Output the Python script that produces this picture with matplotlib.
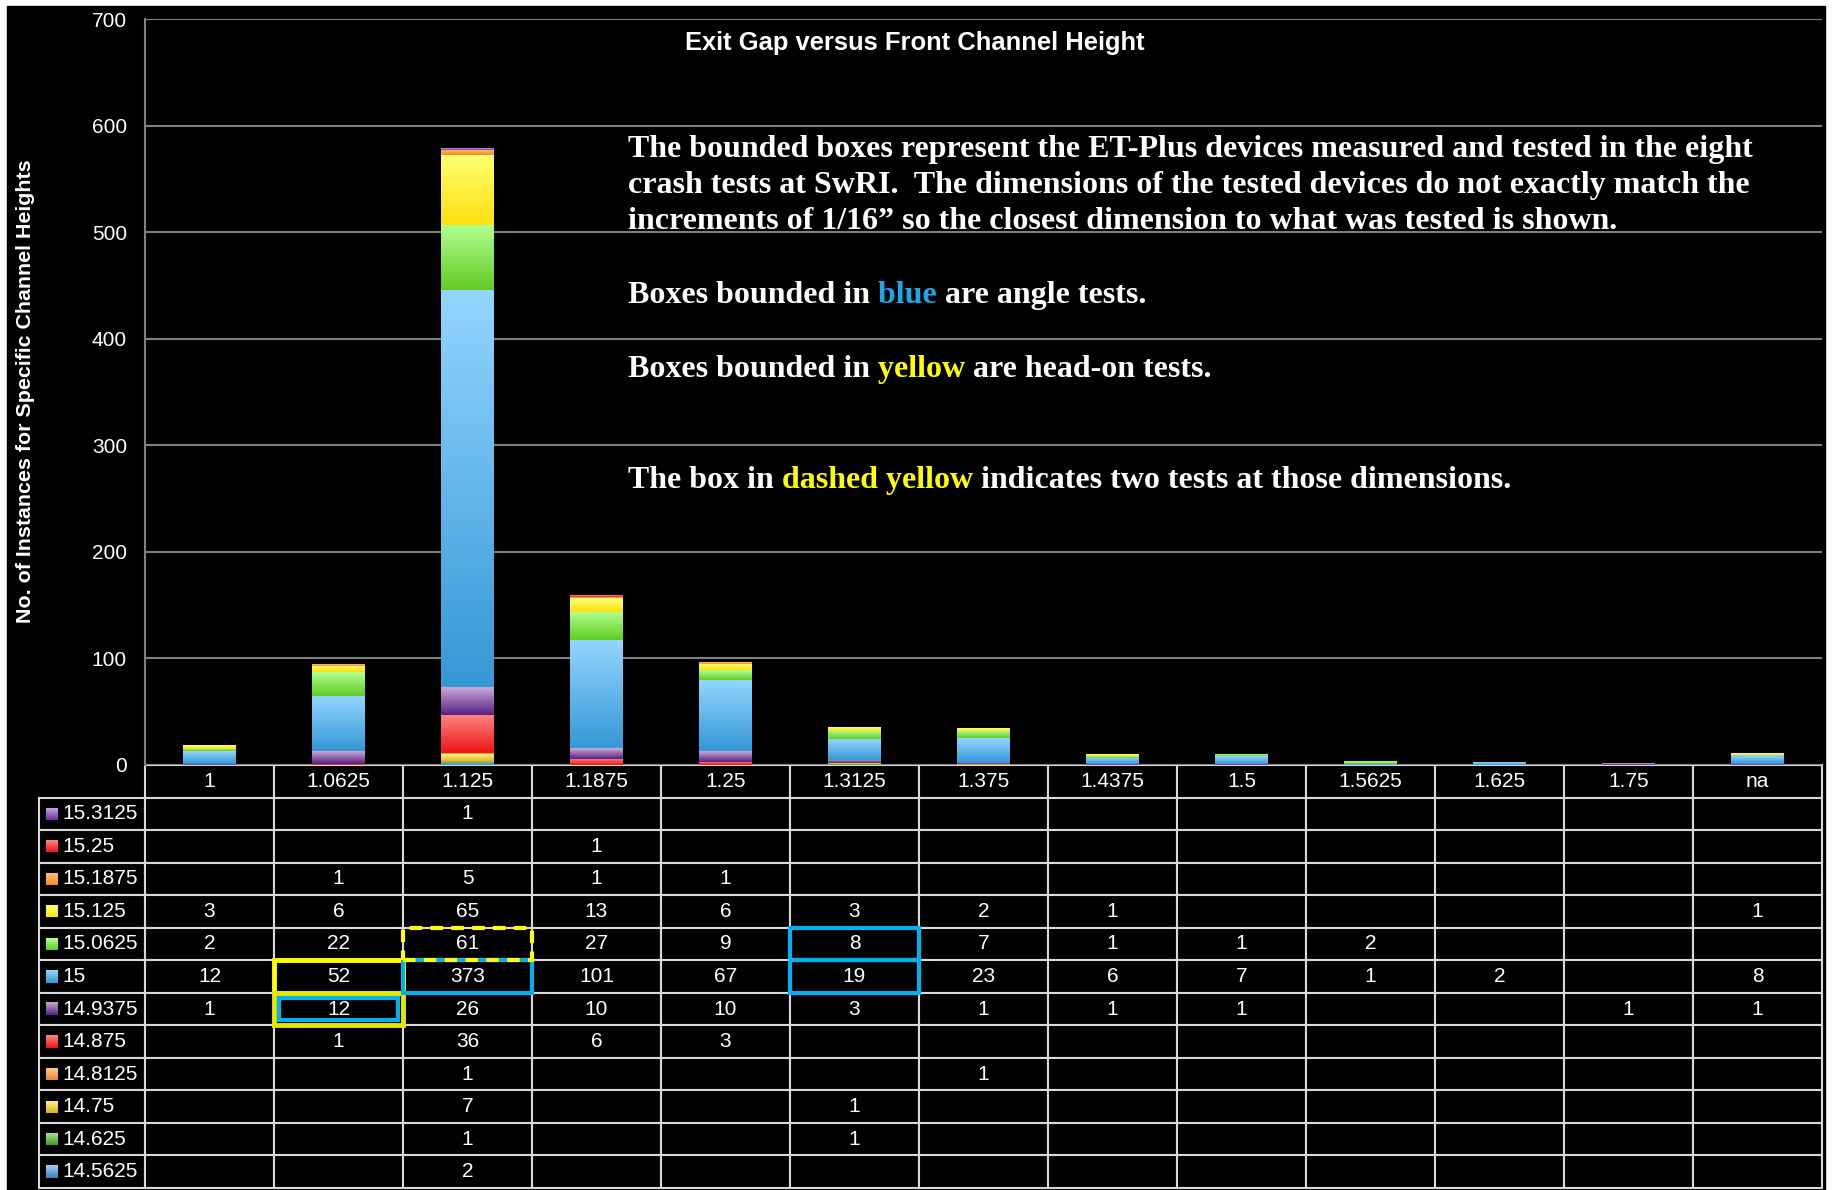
import numpy as np
import matplotlib
matplotlib.use('Agg')
import matplotlib.pyplot as plt
from matplotlib.patches import Rectangle
from matplotlib.colors import LinearSegmentedColormap
from matplotlib.table import Table

# exit gap categories (table columns)
gaps = ['1', '1.0625', '1.125', '1.1875', '1.25', '1.3125', '1.375',
        '1.4375', '1.5', '1.5625', '1.625', '1.75', 'na']

# counts per front channel height, one list per series (0 = blank cell)
h15_3125 = [0, 0, 1, 0, 0, 0, 0, 0, 0, 0, 0, 0, 0]
h15_25 = [0, 0, 0, 1, 0, 0, 0, 0, 0, 0, 0, 0, 0]
h15_1875 = [0, 1, 5, 1, 1, 0, 0, 0, 0, 0, 0, 0, 0]
h15_125 = [3, 6, 65, 13, 6, 3, 2, 1, 0, 0, 0, 0, 1]
h15_0625 = [2, 22, 61, 27, 9, 8, 7, 1, 1, 2, 0, 0, 0]
h15 = [12, 52, 373, 101, 67, 19, 23, 6, 7, 1, 2, 0, 8]
h14_9375 = [1, 12, 26, 10, 10, 3, 1, 1, 1, 0, 0, 1, 1]
h14_875 = [0, 1, 36, 6, 3, 0, 0, 0, 0, 0, 0, 0, 0]
h14_8125 = [0, 0, 1, 0, 0, 0, 1, 0, 0, 0, 0, 0, 0]
h14_75 = [0, 0, 7, 0, 0, 1, 0, 0, 0, 0, 0, 0, 0]
h14_625 = [0, 0, 1, 0, 0, 1, 0, 0, 0, 0, 0, 0, 0]
h14_5625 = [0, 0, 2, 0, 0, 0, 0, 0, 0, 0, 0, 0, 0]

# stacking order, bottom to top
labels = ['14.5625', '14.625', '14.75', '14.8125', '14.875', '14.9375',
          '15', '15.0625', '15.125', '15.1875', '15.25', '15.3125']
series = [h14_5625, h14_625, h14_75, h14_8125, h14_875, h14_9375,
          h15, h15_0625, h15_125, h15_1875, h15_25, h15_3125]
# (top, bottom) gradient colours
shades = [('#a8cdf0', '#3b7fbf'), ('#a8e090', '#3fa02a'),
          ('#fff080', '#d8b020'), ('#ffc890', '#e88830'),
          ('#ff8585', '#ee1515'), ('#c8aad8', '#5a2080'),
          ('#93d5ff', '#3598d6'), ('#b3ff90', '#60cc25'),
          ('#ffff70', '#ffe010'), ('#ffc070', '#f09020'),
          ('#ff8585', '#ee1515'), ('#c8a0e0', '#7030a0')]

W, H = 1832, 1190
fig = plt.figure(figsize=(W / 100, H / 100), dpi=100, facecolor='white')
fig.patches.append(Rectangle((7 / W, 0), (1825 - 7) / W, (H - 6) / H,
                             transform=fig.transFigure, color='black', zorder=-10))

ax = fig.add_axes([145 / W, 1 - 765 / H, 1677 / W, 746 / H])
ax.set_facecolor('black')

x = np.arange(len(gaps))
bottom = np.zeros(len(gaps))
grad = np.linspace(0, 1, 64).reshape(-1, 1)
for vals, (top_c, bot_c) in zip(series, shades):
    vals = np.array(vals, dtype=float)
    bars = ax.bar(x, vals, 0.41, bottom=bottom, color=bot_c, zorder=2)
    cmap = LinearSegmentedColormap.from_list('seg', [bot_c, top_c])
    for b in bars:
        if b.get_height() <= 0:
            continue
        x0, y0 = b.get_x(), b.get_y()
        ax.imshow(grad, cmap=cmap, origin='lower', aspect='auto', zorder=3,
                  interpolation='bilinear',
                  extent=(x0, x0 + b.get_width(), y0, y0 + b.get_height()))
    bottom += vals

ax.set_xlim(-0.5, len(gaps) - 0.5)
ax.set_ylim(0, 700)
ax.set_aspect('auto')
ax.set_yticks(range(0, 701, 100))
ax.set_xticks([])
ax.yaxis.grid(True, color='#808080', lw=1.5)
ax.set_axisbelow(True)
ax.tick_params(axis='y', length=0, pad=13, labelsize=15, labelcolor='white')
for lab in ax.get_yticklabels():
    lab.set_family('Liberation Sans')
for s in ['top', 'right', 'bottom']:
    ax.spines[s].set_visible(False)
ax.spines['left'].set_color('#808080')
ax.spines['left'].set_linewidth(1.5)

# data table under the chart: header row + one row per series (top series first)
rows_top_down = labels[::-1]
vals_top_down = series[::-1]
n_rows = len(rows_top_down) + 1
tbl_h = 423 / 746
row_h = tbl_h / n_rows
tbl = Table(ax, bbox=[-106 / 1677, -tbl_h, 1783 / 1677, tbl_h])


def add(r, c, w, text, loc='center'):
    cell = tbl.add_cell(r, c, w, row_h, text=text, loc=loc,
                        facecolor='black', edgecolor='#d9d9d9')
    cell.set_linewidth(1.5)
    cell.get_text().set_color('white')
    cell.get_text().set_family('Liberation Sans')
    return cell


for j, g in enumerate(gaps):
    add(0, j + 1, 129, g)
for i, (lab, vals) in enumerate(zip(rows_top_down, vals_top_down)):
    add(i + 1, 0, 106, lab, loc='left').PAD = 0.22
    for j, v in enumerate(vals):
        add(i + 1, j + 1, 129, '' if v == 0 else str(v))
tbl.auto_set_font_size(False)
tbl.set_fontsize(15)
ax.add_table(tbl)

# legend keys in the row label cells
for i, lab in enumerate(rows_top_down):
    top_c, bot_c = shades[labels.index(lab)]
    cmap = LinearSegmentedColormap.from_list('key', [bot_c, top_c])
    yc = -(i + 1.5) * row_h
    ax.imshow(grad, cmap=cmap, origin='lower', aspect='auto', zorder=5,
              interpolation='bilinear', transform=ax.transAxes, clip_on=False,
              extent=(-99 / 1677, -87 / 1677, yc - 6 / 746, yc + 6 / 746))


def cell_box(r, c, color, lw, ls='-', inset=0.0):
    x0 = c / len(gaps) + inset / 1677
    y0 = -(r + 1) * row_h + inset / 746
    ax.add_patch(Rectangle((x0, y0), 1 / len(gaps) - 2 * inset / 1677,
                           row_h - 2 * inset / 746, transform=ax.transAxes,
                           clip_on=False, fill=False, edgecolor=color,
                           lw=lw, ls=ls, zorder=6))


# tested devices: yellow = head-on, blue = angle
cell_box(6, 1, '#ffff00', 3.5)
cell_box(7, 1, '#e6e600', 3.5)
cell_box(7, 1, '#00b0f0', 3, inset=5)
cell_box(6, 2, '#00b0f0', 3)
cell_box(5, 2, '#ffff00', 3, ls=(0, (3, 2)))
cell_box(5, 5, '#00b0f0', 3)
cell_box(6, 5, '#00b0f0', 3)

fig.text(915 / W, 1 - 43 / H, 'Exit Gap versus Front Channel Height',
         color='white', fontsize=18.4, fontweight='bold', family='Liberation Sans',
         ha='center', va='center')
fig.text(26 / W, 1 - 391 / H, 'No. of Instances for Specific Channel Heights',
         color='white', fontsize=15.4, fontweight='bold', family='Liberation Sans',
         rotation=90, ha='center', va='center')

renderer = fig.canvas.get_renderer()


def note(y_px, parts, size=23):
    xf = 628 / W
    for s, c in parts:
        t = fig.text(xf, 1 - y_px / H, s, color=c, fontsize=size,
                     fontweight='bold', family='Liberation Serif',
                     ha='left', va='baseline')
        xf = t.get_window_extent(renderer=renderer).x1 / W


note(157, [('The bounded boxes represent the ET-Plus devices measured and tested in the eight', 'white')])
note(193, [('crash tests at SwRI.  The dimensions of the tested devices do not exactly match the', 'white')])
note(229, [('increments of 1/16\u201d so the closest dimension to what was tested is shown.', 'white')])
note(303, [('Boxes bounded in', 'white'), (' blue', '#1aa8e8'), (' are angle tests.', 'white')])
note(377, [('Boxes bounded in', 'white'), (' yellow', '#ffff00'), (' are head-on tests.', 'white')])
note(488, [('The box in', 'white'), (' dashed yellow', '#ffff00'),
           (' indicates two tests at those dimensions.', 'white')])

fig.savefig('out.png', dpi=100, facecolor=fig.get_facecolor())
